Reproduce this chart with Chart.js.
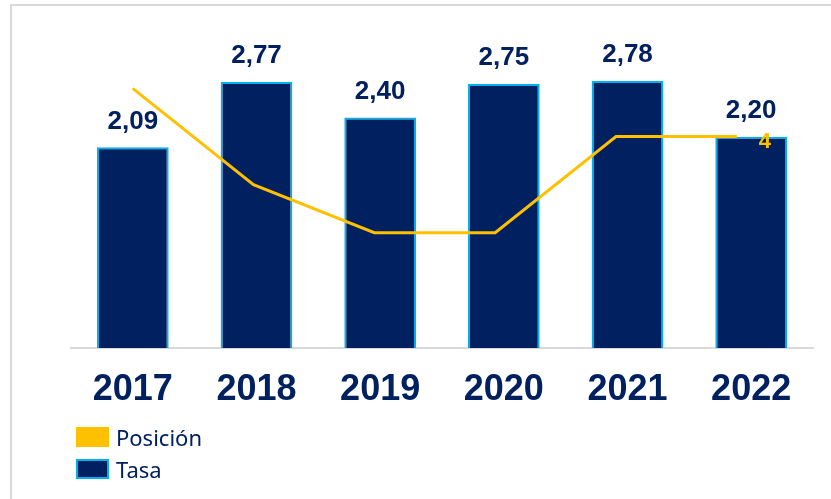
<!DOCTYPE html>
<html>
<head>
<meta charset="utf-8">
<script src="https://cdn.jsdelivr.net/npm/chart.js@4/dist/chart.umd.min.js"></script>
<style>
  body { margin: 0; background: #fff; }
  #wrap { position: relative; width: 831px; height: 499px; overflow: hidden; }
  #frame { position: absolute; left: 10px; top: 4px; width: 900px; height: 600px;
           border-left: 2px solid #d9d9d9; border-top: 2px solid #d9d9d9; }
  #chart { position: absolute; left: 0; top: 0; }
  #legend { position: absolute; left: 76px; top: 427px; font-family: "Noto Sans", sans-serif;
            font-size: 22px; color: #002060; }
  .item { display: flex; align-items: center; height: 20px; margin-bottom: 12px; }
  .box { width: 33px; height: 20px; box-sizing: border-box; margin-right: 7px; }
</style>
</head>
<body>
<div id="wrap">
  <div id="frame"></div>
  <canvas id="chart" width="831" height="499"></canvas>
  <div id="legend"></div>
</div>
<script>
const years = ["2017", "2018", "2019", "2020", "2021", "2022"];
const tasa = [2.09, 2.77, 2.40, 2.75, 2.78, 2.20];
const posicion = [3, 5, 6, 6, 4, 4];

const navy = "#002060";
const cyan = "#00b0f0";
const gold = "#ffc000";

// value labels over the bars, and the last position value next to the line
const labelPlugin = {
  id: "labels",
  afterDatasetsDraw(chart) {
    const ctx = chart.ctx;
    ctx.save();
    ctx.textAlign = "center";
    ctx.textBaseline = "middle";
    ctx.font = 'bold 26px "Liberation Sans", Arial, sans-serif';
    ctx.fillStyle = navy;
    chart.getDatasetMeta(1).data.forEach((bar, i) => {
      ctx.fillText(tasa[i].toFixed(2).replace(".", ","), bar.x, bar.y - 26);
    });
    const pts = chart.getDatasetMeta(0).data;
    const last = pts[pts.length - 1];
    ctx.font = 'bold 22px "Liberation Sans", Arial, sans-serif';
    ctx.fillStyle = gold;
    ctx.fillText(String(posicion[posicion.length - 1]), last.x + 28, last.y + 5);
    ctx.restore();
  },
};

const chart = new Chart(document.getElementById("chart"), {
  data: {
    labels: years,
    datasets: [
      {
        type: "line",
        label: "Posición",
        data: posicion.map((v, i) => ({ x: i, y: v })),
        xAxisID: "x2",
        yAxisID: "y2",
        borderColor: gold,
        backgroundColor: gold,
        borderWidth: 3,
        pointRadius: 0,
        tension: 0,
      },
      {
        type: "bar",
        label: "Tasa",
        data: tasa,
        xAxisID: "x",
        yAxisID: "y",
        backgroundColor: navy,
        borderColor: cyan,
        borderWidth: 2,
        grouped: false,
        categoryPercentage: 1,
        barPercentage: 0.58,
      },
    ],
  },
  options: {
    responsive: false,
    animation: false,
    layout: { padding: { left: 71, right: 18, top: 12, bottom: 0 } },
    plugins: { legend: { display: false }, tooltip: { enabled: false } },
    scales: {
      x: {
        type: "category",
        position: "bottom",
        grid: { display: false, drawTicks: false },
        border: { color: "#d9d9d9", width: 2 },
        ticks: {
          color: navy,
          padding: 20,
          font: { family: '"Liberation Sans", Arial, sans-serif', size: 36, weight: "bold" },
        },
        afterFit: (scale) => { scale.height = 151; },
      },
      x2: { type: "linear", display: false, min: -0.51, max: 5.63 },
      y: { display: false, min: 0, max: 3.5 },
      y2: { display: false, reverse: true, min: 1.41, max: 8.4 },
    },
  },
  plugins: [labelPlugin],
});

// legend built from the datasets
const legendDiv = document.getElementById("legend");
chart.data.datasets.forEach((ds) => {
  const item = document.createElement("div");
  item.className = "item";
  const box = document.createElement("span");
  box.className = "box";
  box.style.background = ds.backgroundColor;
  if (ds.type === "bar") box.style.border = "2px solid " + cyan;
  const txt = document.createElement("span");
  txt.innerText = ds.label;
  item.appendChild(box);
  item.appendChild(txt);
  legendDiv.appendChild(item);
});
</script>
</body>
</html>
